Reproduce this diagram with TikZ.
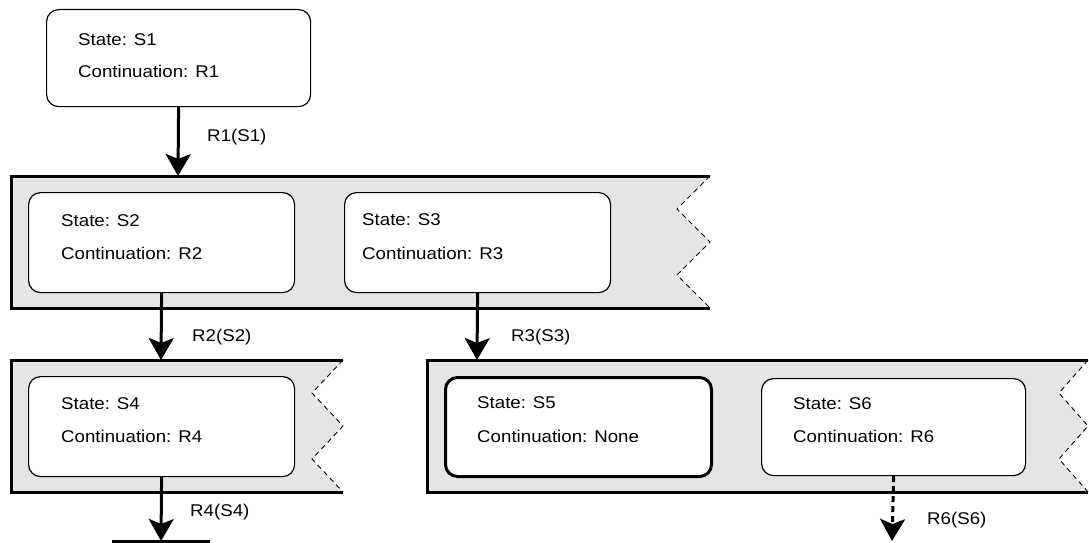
\documentclass[tikz,border=0pt]{standalone}
\usepackage{fontspec}
\setmainfont{Liberation Sans}[FakeStretch=1.1]
\usetikzlibrary{arrows.meta}
\begin{document}
\begin{tikzpicture}[x=1pt,y=-1pt,
  font=\fontsize{17}{20}\selectfont,
  band/.style={fill=black!10, draw=none},
  bandedge/.style={line width=3pt},
  zig/.style={line width=0.9pt, dash pattern=on 5pt off 4pt},
  statebox/.style={draw, fill=white, rounded corners=12pt, line width=1.2pt,
    anchor=north west, inner sep=0pt},
  finalbox/.style={statebox, line width=3pt},
  txt/.style={anchor=west, inner sep=0pt},
  flow/.style={line width=3pt, -{Stealth[length=22pt, width=25pt, inset=5pt]}},
  maybeflow/.style={flow, dash pattern=on 6pt off 4pt},
  lbl/.style={anchor=west, inner sep=0pt}]
\useasboundingbox (0,0) rectangle (1089,543);

% --- band holding S2 and S3
\fill[band] (11,176) -- (710,176) -- (677,209) -- (710,242) -- (677,275)
  -- (710,308) -- (11,308) -- cycle;
\draw[bandedge] (710,176) -- (11,176) -- (11,308) -- (710,308);
\draw[zig] (710,176) -- (677,209) -- (710,242) -- (677,275) -- (710,308);

% --- band holding S4
\fill[band] (11,360) -- (343,360) -- (312,393) -- (343,426) -- (312,459)
  -- (343,492) -- (11,492) -- cycle;
\draw[bandedge] (343,360) -- (11,360) -- (11,492) -- (343,492);
\draw[zig] (343,360) -- (312,393) -- (343,426) -- (312,459) -- (343,492);

% --- band holding S5 and S6
\fill[band] (427,360) -- (1088,360) -- (1059,393) -- (1088,426) -- (1059,459)
  -- (1088,492) -- (427,492) -- cycle;
\draw[bandedge] (1088,360) -- (427,360) -- (427,492) -- (1088,492);
\draw[zig] (1088,360) -- (1059,393) -- (1088,426) -- (1059,459) -- (1088,492);

% --- states
\node[statebox, minimum width=264pt, minimum height=97pt] (s1) at (46,9) {};
\node[txt] (s1a) at (78,40) {State: S1};
\node[txt] (s1b) at (78,71) {Continuation: R1};

\node[statebox, minimum width=266pt, minimum height=100pt] (s2) at (28,192) {};
\node[txt] (s2a) at (61,221) {State: S2};
\node[txt] (s2b) at (61,253) {Continuation: R2};

\node[statebox, minimum width=266pt, minimum height=100pt] (s3) at (344,192) {};
\node[txt] (s3a) at (362,220) {State: S3};
\node[txt] (s3b) at (362,253) {Continuation: R3};

\node[statebox, minimum width=266pt, minimum height=100pt] (s4) at (28,376) {};
\node[txt] (s4a) at (61,404) {State: S4};
\node[txt] (s4b) at (61,436) {Continuation: R4};

\node[finalbox, minimum width=266pt, minimum height=99pt] (s5) at (444,376) {};
\node[txt] (s5a) at (477,403) {State: S5};
\node[txt] (s5b) at (477,436) {Continuation: None};

\node[statebox, minimum width=264pt, minimum height=97pt] (s6) at (761,378) {};
\node[txt] (s6a) at (793,404) {State: S6};
\node[txt] (s6b) at (793,436) {Continuation: R6};

% --- arrow ends
\coordinate (in2) at (178,176);
\coordinate (in4) at (161,360);
\coordinate (in5) at (477,360);
\coordinate (out4) at (161,541);
\coordinate (out6) at (892,541);
\coordinate (endL) at (112,541.5);
\coordinate (endR) at (210,541.5);

% --- transitions
\draw[flow] (s1.south) -- (in2);
\draw[flow] (s2.south) -- (in4);
\draw[flow] (s3.south) -- (in5);
\draw[flow] (s4.south) -- (out4);
\draw[maybeflow] (s6.south) -- (out6);
\draw[line width=3pt] (endL) -- (endR);

\node[lbl] (l1) at (207,137) {R1(S1)};
\node[lbl] (l2) at (192,337) {R2(S2)};
\node[lbl] (l3) at (511,337) {R3(S3)};
\node[lbl] (l4) at (190,512) {R4(S4)};
\node[lbl] (l6) at (927,520) {R6(S6)};
\end{tikzpicture}
\end{document}
